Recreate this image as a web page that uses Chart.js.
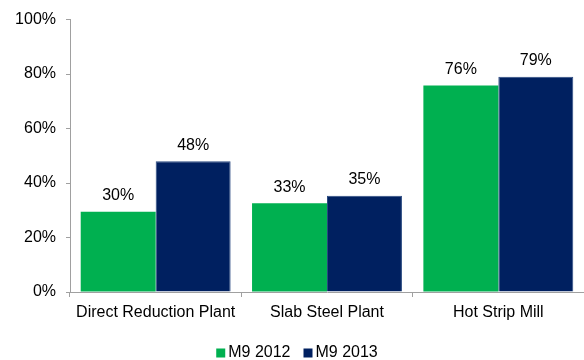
<!DOCTYPE html>
<html>
<head>
<meta charset="utf-8">
<script src="https://cdn.jsdelivr.net/npm/chart.js@4/dist/chart.umd.min.js"></script>
<style>
html,body{margin:0;padding:0;background:#fff;}
#wrap{width:584px;height:360px;}
</style>
</head>
<body>
<div id="wrap"><canvas id="c" width="584" height="360"></canvas></div>
<script>
const categories = ["Direct Reduction Plant", "Slab Steel Plant", "Hot Strip Mill"];
const series2012 = [29.5, 32.6, 75.8];
const series2013 = [48.0, 35.3, 79.0];
const labels2012 = ["30%", "33%", "76%"];
const labels2013 = ["48%", "35%", "79%"];
const yTicks = [0, 20, 40, 60, 80, 100];

const FONT = "'Liberation Sans', Arial, sans-serif";

const valueLabels = {
  id: 'valueLabels',
  afterDatasetsDraw(chart) {
    const ctx = chart.ctx;
    ctx.save();
    ctx.font = "16px " + FONT;
    ctx.fillStyle = "#000";
    ctx.textAlign = "center";
    ctx.textBaseline = "bottom";
    chart.data.datasets.forEach((ds, di) => {
      const meta = chart.getDatasetMeta(di);
      meta.data.forEach((bar, i) => {
        ctx.fillText(ds.valueLabels[i], bar.x, bar.y - 8);
      });
    });
    ctx.restore();
  }
};

const bottomLegend = {
  id: 'bottomLegend',
  afterDraw(chart) {
    const ctx = chart.ctx;
    ctx.save();
    ctx.font = "16px " + FONT;
    ctx.textBaseline = "middle";
    ctx.textAlign = "left";
    const box = 9, gap = 3, itemGap = 13;
    const items = chart.data.datasets.map(ds => ({ label: ds.label, color: ds.backgroundColor, w: ctx.measureText(ds.label).width }));
    let total = 0;
    items.forEach((it, i) => { total += box + gap + it.w + (i ? itemGap : 0); });
    let x = chart.width / 2 + 5 - total / 2;
    const cy = 353;
    items.forEach((it, i) => {
      if (i) x += itemGap;
      ctx.fillStyle = it.color;
      ctx.fillRect(x, cy - box / 2, box, box);
      x += box + gap;
      ctx.fillStyle = "#000";
      ctx.fillText(it.label, x, cy);
      x += it.w;
    });
    ctx.restore();
  }
};

new Chart(document.getElementById('c'), {
  type: 'bar',
  data: {
    labels: categories,
    datasets: [
      { label: 'M9 2012', data: series2012, valueLabels: labels2012, backgroundColor: '#00B050', borderWidth: 0 },
      { label: 'M9 2013', data: series2013, valueLabels: labels2013, backgroundColor: '#002060', borderColor: '#2a4a80', borderWidth: 1 }
    ]
  },
  options: {
    responsive: false,
    animation: false,
    devicePixelRatio: 1,
    layout: { padding: { top: 10, right: 0, left: 0, bottom: 20 } },
    datasets: { bar: { categoryPercentage: 0.875, barPercentage: 1.0 } },
    plugins: {
      legend: { display: false },
      tooltip: { enabled: false }
    },
    scales: {
      x: {
        grid: { display: true, drawOnChartArea: false, drawTicks: true, tickLength: 5, offset: true, color: '#a0a0a0' },
        border: { display: true, color: '#a0a0a0' },
        ticks: { font: { size: 16, family: FONT }, color: '#000', padding: 6, maxRotation: 0 },
        afterFit(s) { s.height = 48; }
      },
      y: {
        min: 0, max: 100,
        afterBuildTicks(s) { s.ticks = yTicks.map(v => ({ value: v })); },
        grid: { display: true, drawOnChartArea: false, drawTicks: true, tickLength: 4, color: '#a0a0a0' },
        border: { display: true, color: '#a0a0a0' },
        ticks: { font: { size: 16, family: FONT }, color: '#000', padding: 10, callback: v => v + '%' },
        afterFit(s) { s.width = 70; }
      }
    }
  },
  plugins: [valueLabels, bottomLegend]
});
</script>
</body>
</html>
